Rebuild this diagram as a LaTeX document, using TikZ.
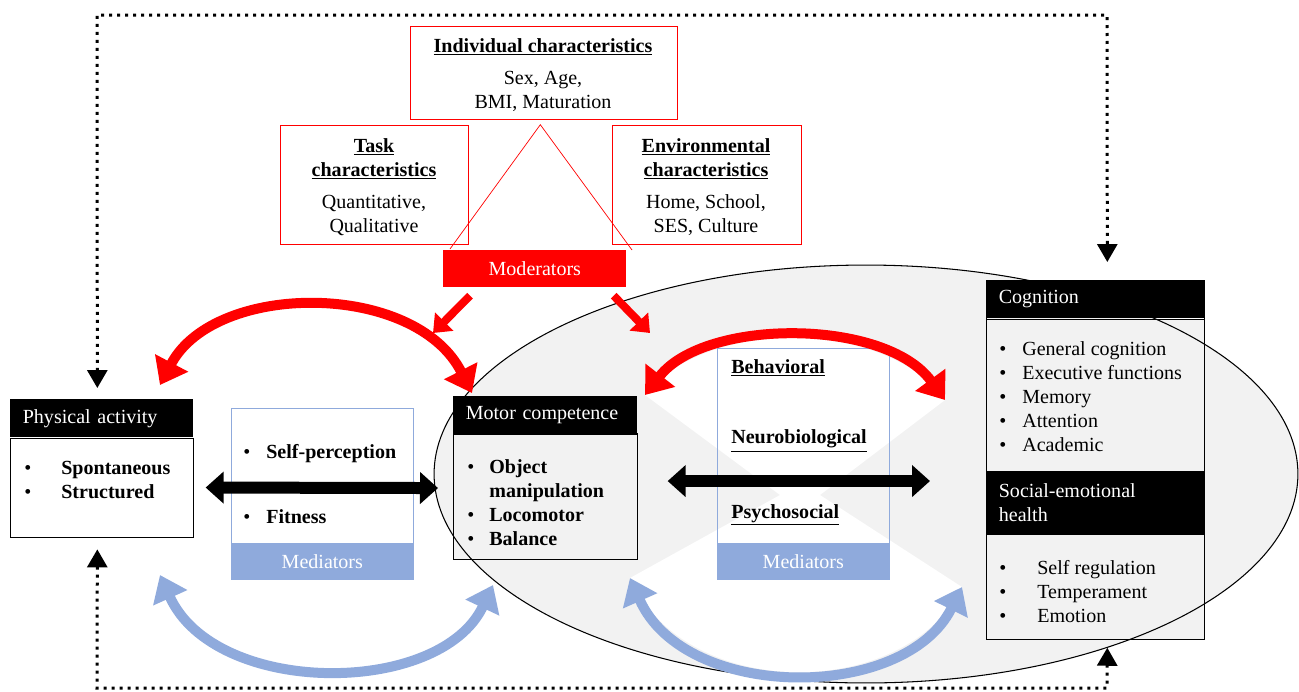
\documentclass[tikz,border=0pt]{standalone}
\usepackage{fontspec}
\setmainfont{Liberation Serif}
\usetikzlibrary{arrows.meta,positioning}
\definecolor{medblue}{HTML}{8FAADC}
\definecolor{ovalgray}{HTML}{F2F2F2}
\newcommand\basefont{\fontsize{11.4}{13.66}\selectfont}
\newcommand\ttl[1]{\underline{\textbf{#1}}}
\tikzset{
    model diagram/.style = {x=0.02cm, y=-0.02cm,
                            every node/.style={font=\basefont}},
    hdr/.style        = {fill=black, text=white, anchor=north west,
                         inner xsep=0.25cm, inner ysep=0pt, align=left},
    bodybox/.style    = {draw, thin, anchor=north west, inner sep=0pt},
    redbox/.style     = {draw=red, thin, anchor=north west, inner sep=0pt},
    medbox/.style     = {draw=medblue, thin, anchor=north west, inner sep=0pt},
    band/.style       = {fill=medblue, text=white, anchor=south west,
                         inner sep=0pt},
    items/.style      = {anchor=west, inner sep=0pt, align=left},
    ctext/.style      = {inner sep=0pt, align=center},
    redarc/.style     = {red, line width=0.2cm,
                         {Triangle[width=0.72cm,length=0.5cm]}-{Triangle[width=0.72cm,length=0.5cm]}},
    bluearc/.style    = {medblue, line width=0.2cm,
                         {Triangle[width=0.72cm,length=0.5cm]}-{Triangle[width=0.72cm,length=0.5cm]}},
    thickarrow/.style = {line width=0.24cm,
                         {Triangle[width=0.62cm,length=0.36cm]}-{Triangle[width=0.62cm,length=0.36cm]}},
    modarrow/.style   = {red, line width=0.16cm, -{Triangle[width=0.5cm,length=0.32cm]}},
    loopline/.style   = {line width=0.06cm, dash pattern=on 0.06cm off 0.1cm,
                         {Triangle[width=0.4cm,length=0.36cm]}-{Triangle[width=0.4cm,length=0.36cm]}}
}
\begin{document}
\begin{tikzpicture}[model diagram]
\useasboundingbox (0,0) rectangle (1299,691);

% ================= Oval and white cross =================
\fill[ovalgray] (866,474) ellipse [x radius=8.64cm, y radius=4.18cm];
\fill[white] (645,395) .. controls (705,318) and (885,318) .. (945,400)
    -- (820,495) -- (962,587) .. controls (905,702) and (685,702) .. (630,578)
    -- (780,495) -- cycle;

% ================= Box bodies =================
\node[hdr, text width=3.16cm, minimum height=0.76cm] (pahead) at (10,399) {Physical activity};
\node[bodybox, fill=white, minimum width=3.66cm, minimum height=1.98cm] (pabody) at (pahead.south west) {};
\node[medbox, fill=white, minimum width=3.64cm, minimum height=3.42cm] (medleft) at (231,408) {};
\node[band, minimum width=3.64cm, minimum height=0.72cm] (bandleft) at (medleft.south west) {Mediators};
\node[hdr, text width=3.18cm, minimum height=0.74cm] (motorhead) at (453,396) {Motor competence};
\node[bodybox, fill=ovalgray, minimum width=3.68cm, minimum height=2.5cm] (motorbody) at (motorhead.south west) {};
\node[medbox, minimum width=3.44cm, minimum height=4.62cm] (medmid) at (717,348) {};
\node[band, minimum width=3.44cm, minimum height=0.72cm] (bandmid) at (medmid.south west) {Mediators};
\node[hdr, text width=3.86cm, minimum height=0.76cm] (coghead) at (986,280) {Cognition};
\node[bodybox, fill=ovalgray, minimum width=4.36cm, minimum height=3.04cm] (cogbody) at (coghead.south west) {};
\node[hdr, text width=3.86cm, minimum height=1.24cm] (sochead) at (cogbody.south west) {Social-emotional\\health};
\node[bodybox, fill=ovalgray, minimum width=4.36cm, minimum height=2.1cm] (socbody) at (sochead.south west) {};

% oval outline over the bodies, headers again on top
\draw[line width=0.6pt] (866,474) ellipse [x radius=8.64cm, y radius=4.18cm];
\node[hdr, text width=3.18cm, minimum height=0.74cm] at (453,396) {Motor competence};
\node[hdr, text width=3.86cm, minimum height=0.76cm] at (986,280) {Cognition};
\node[hdr, text width=3.86cm, minimum height=1.24cm] at (cogbody.south west) {Social-emotional\\health};
\draw[thin] (motorbody.north west) rectangle (motorbody.south east);
\draw[thin] (coghead.north west) rectangle (socbody.south east);

% ================= Box contents =================
\node[items] (paitems) at (24,482) {\begin{tabular}{@{}p{0.74cm}@{}l@{}}
    \textbullet & \textbf{Spontaneous}\\ \textbullet & \textbf{Structured}\end{tabular}};
\node[items] (selfperc) at (243,454) {\begin{tabular}{@{}p{0.46cm}@{}l@{}}
    \textbullet & \textbf{Self-perception}\end{tabular}};
\node[items] (fitness) at (243,519) {\begin{tabular}{@{}p{0.46cm}@{}l@{}}
    \textbullet & \textbf{Fitness}\end{tabular}};
\node[items] (motoritems) at (467,504.5) {\begin{tabular}{@{}p{0.44cm}@{}l@{}}
    \textbullet & \textbf{Object}\\ & \textbf{manipulation}\\
    \textbullet & \textbf{Locomotor}\\ \textbullet & \textbf{Balance}\end{tabular}};
\node[items] (behav) at (731,368) {\ttl{Behavioral}};
\node[items] (neuro) at (731,441) {\ttl{Neurobiological}};
\node[items] (psycho) at (731,515) {\ttl{Psychosocial}};
\node[items] (cogitems) at (999,398.5) {\begin{tabular}{@{}p{0.46cm}@{}l@{}}
    \textbullet & General cognition\\ \textbullet & Executive functions\\
    \textbullet & Memory\\ \textbullet & Attention\\ \textbullet & Academic\end{tabular}};
\node[items] (socitems) at (999,594) {\begin{tabular}{@{}p{0.76cm}@{}l@{}}
    \textbullet & Self regulation\\ \textbullet & Temperament\\
    \textbullet & Emotion\end{tabular}};

% ================= Moderators =================
\node[redbox, minimum width=5.34cm, minimum height=1.86cm] (indiv) at (410,26) {};
\node[ctext] (indivtitle) at (543,47) {\ttl{Individual characteristics}};
\node[ctext] (indivtext) at (543,91) {Sex, Age,\\BMI, Maturation};
\node[redbox, minimum width=3.76cm, minimum height=2.38cm] (task) at (280,125) {};
\node[ctext] (tasktitle) at (374,159) {\ttl{Task}\\\ttl{characteristics}};
\node[ctext] (tasktext) at (374,215) {Quantitative,\\Qualitative};
\node[redbox, minimum width=3.78cm, minimum height=2.38cm] (env) at (612,125) {};
\node[ctext] (envtitle) at (706,159) {\ttl{Environmental}\\\ttl{characteristics}};
\node[ctext] (envtext) at (706,215) {Home, School,\\SES, Culture};
\draw[red, thin] (450,249) -- ([xshift=-0.07cm, yshift=-0.1cm]indiv.south) -- (632,250);
\node[anchor=north west, fill=red, text=white, inner sep=0pt,
      minimum width=3.66cm, minimum height=0.74cm] (moder) at (443,250) {Moderators};

\coordinate (modL) at (433,333);
\coordinate (modR) at (650,333);
\draw[modarrow] ([xshift=0.54cm, yshift=-0.16cm]moder.south west) -- (modL);
\draw[modarrow] ([xshift=-0.26cm, yshift=-0.16cm]moder.south east) -- (modR);

% ================= Arcs =================
\coordinate (paTop) at (160,385);
\coordinate (motorTop) at (472,393);
\coordinate (motorTopR) at (645,395);
\coordinate (cogLeft) at (945,400);
\draw[redarc] (paTop) .. controls (215,281) and (415,281) .. (motorTop);
\draw[redarc] (motorTopR) .. controls (705,318) and (885,318) .. (cogLeft);
\coordinate (paBot) at (160,575);
\coordinate (motorBot) at (493,585);
\coordinate (motorBotR) at (630,578);
\coordinate (socLeft) at (962,587);
\draw[bluearc] (paBot) .. controls (215,697) and (440,697) .. (motorBot);
\draw[bluearc] (motorBotR) .. controls (685,702) and (905,702) .. (socLeft);

% ================= Direct links =================
\draw[thickarrow] ([xshift=0.24cm]pabody.east) -- ([xshift=-0.3cm, yshift=0.17cm]motorbody.west);
\draw[thickarrow] ([xshift=0.6cm, yshift=0.31cm]motorbody.east) -- ([xshift=-1.12cm, yshift=0.31cm]motorbody.east -| cogbody.west);

% ================= Feedback loops =================
\coordinate (loopTL) at (97,15);
\coordinate (loopTR) at (1107,15);
\coordinate (loopBL) at (97,688);
\coordinate (loopBR) at (1107,688);
\draw[loopline] ([xshift=-0.09cm, yshift=0.22cm]pahead.north) -- (loopTL) -- (loopTR) -- ([xshift=0.24cm, yshift=0.36cm]coghead.north);
\draw[loopline] ([xshift=-0.09cm, yshift=-0.24cm]pabody.south) -- (loopBL) -- (loopBR) -- ([xshift=0.24cm, yshift=-0.16cm]socbody.south);

\end{tikzpicture}
\end{document}
